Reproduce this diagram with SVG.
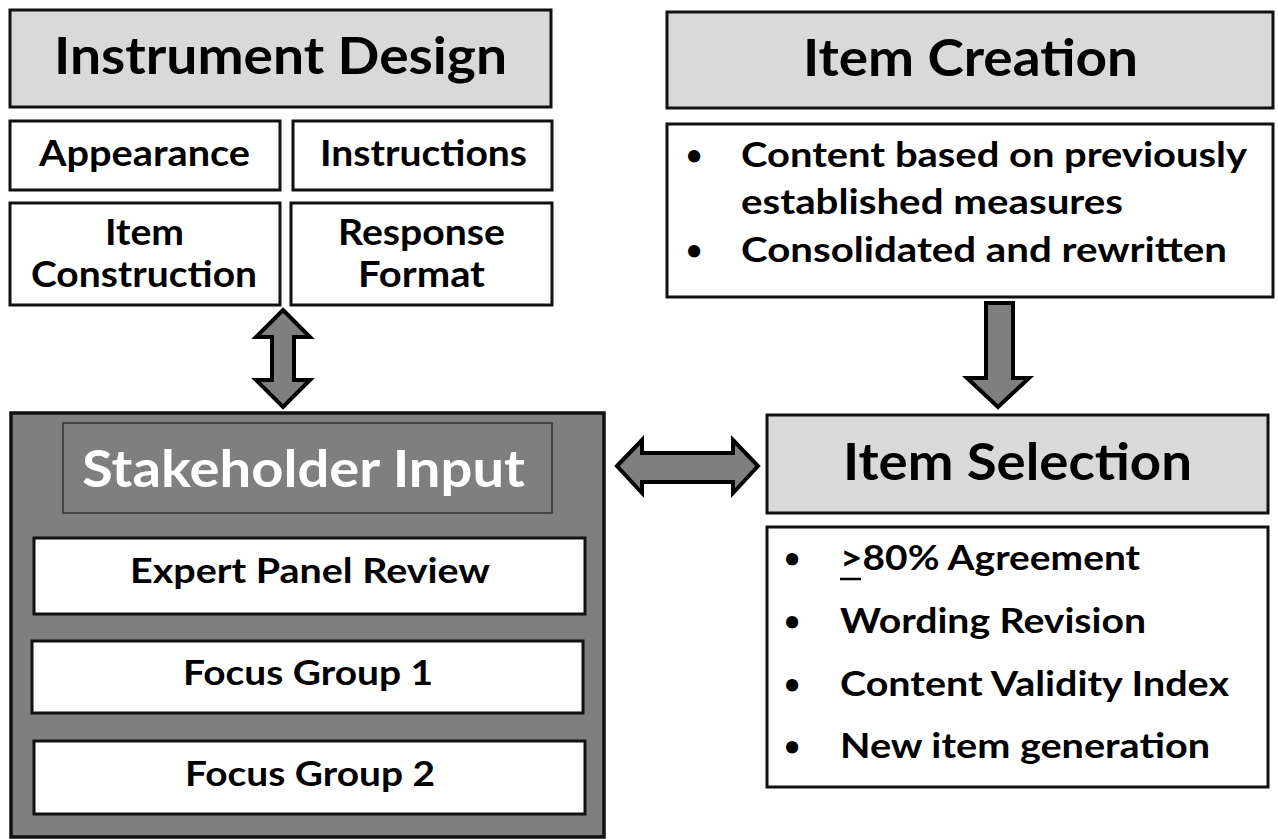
<svg xmlns="http://www.w3.org/2000/svg" width="1278" height="839" viewBox="0 0 1278 839">
<style>
text{font-family:Lato,"Open Sans","Liberation Sans",sans-serif;font-weight:bold;fill:#000}
.title{font-size:51px}
.sub{font-size:36px}
.item{font-size:34px}
.bul{font-size:28px;text-anchor:middle}
.w{fill:#fff}
.lg{fill:#d9d9d9;stroke:#111;stroke-width:3}
.wb{fill:#fff;stroke:#111;stroke-width:3}
.dg{fill:#7f7f7f;stroke:#111;stroke-width:3.5}
.arr{fill:#7f7f7f;stroke:#000;stroke-width:4;stroke-linejoin:miter}
</style>
<rect width="1278" height="839" fill="#fff"/>

<g id="instrument-design">
<rect class="lg" x="10" y="10" width="541" height="97"/>
<text class="title" x="54" y="74" textLength="453" lengthAdjust="spacingAndGlyphs">Instrument Design</text>
</g>
<g id="appearance">
<rect class="wb" x="10" y="121" width="270" height="69"/>
<text class="sub" x="39" y="166" textLength="211" lengthAdjust="spacingAndGlyphs">Appearance</text>
</g>
<g id="instructions">
<rect class="wb" x="293" y="121" width="259" height="69"/>
<text class="sub" x="320" y="166" textLength="207" lengthAdjust="spacingAndGlyphs">Instructions</text>
</g>
<g id="item-construction">
<rect class="wb" x="10" y="203" width="270" height="102"/>
<text class="sub" x="105" y="245" textLength="79" lengthAdjust="spacingAndGlyphs">Item</text>
<text class="sub" x="31" y="287" textLength="226" lengthAdjust="spacingAndGlyphs">Construction</text>
</g>
<g id="response-format">
<rect class="wb" x="291" y="203" width="261" height="102"/>
<text class="sub" x="338" y="245" textLength="167" lengthAdjust="spacingAndGlyphs">Response</text>
<text class="sub" x="358" y="287" textLength="127" lengthAdjust="spacingAndGlyphs">Format</text>
</g>

<g id="item-creation">
<rect class="lg" x="667" y="12" width="606" height="96"/>
<text class="title" x="803" y="76" textLength="335" lengthAdjust="spacingAndGlyphs">Item Creation</text>
</g>
<g id="item-creation-list">
<rect class="wb" x="667" y="124" width="606" height="173"/>
<text class="bul" x="694" y="165">•</text>
<text class="item" x="741" y="167" textLength="506" lengthAdjust="spacingAndGlyphs">Content based on previously</text>
<text class="item" x="741" y="214" textLength="382" lengthAdjust="spacingAndGlyphs">established measures</text>
<text class="bul" x="694" y="260">•</text>
<text class="item" x="741" y="262" textLength="486" lengthAdjust="spacingAndGlyphs">Consolidated and rewritten</text>
</g>

<g id="stakeholder-input">
<rect class="dg" x="11" y="413" width="593" height="424"/>
<rect x="63" y="423" width="489" height="90" fill="#7f7f7f" stroke="#333" stroke-width="1.5"/>
<text class="title w" x="82" y="487" textLength="443" lengthAdjust="spacingAndGlyphs">Stakeholder Input</text>
</g>
<g id="expert-panel-review">
<rect class="wb" x="34" y="538" width="551" height="76"/>
<text class="item" x="130" y="583" textLength="360" lengthAdjust="spacingAndGlyphs">Expert Panel Review</text>
</g>
<g id="focus-group-1">
<rect class="wb" x="32" y="641" width="551" height="72"/>
<text class="item" x="183" y="685" textLength="250" lengthAdjust="spacingAndGlyphs">Focus Group 1</text>
</g>
<g id="focus-group-2">
<rect class="wb" x="34" y="741" width="551" height="73"/>
<text class="item" x="185" y="786" textLength="250" lengthAdjust="spacingAndGlyphs">Focus Group 2</text>
</g>

<g id="item-selection">
<rect class="lg" x="767" y="415" width="501" height="98"/>
<text class="title" x="843" y="480" textLength="349" lengthAdjust="spacingAndGlyphs">Item Selection</text>
</g>
<g id="item-selection-list">
<rect class="wb" x="767" y="527" width="501" height="260"/>
<text class="bul" x="792" y="568">•</text>
<text class="item" x="840" y="570" textLength="300" lengthAdjust="spacingAndGlyphs">&gt;80% Agreement</text>
<line x1="840" y1="579" x2="861" y2="579" stroke="#000" stroke-width="2.5"/>
<text class="bul" x="792" y="631">•</text>
<text class="item" x="840" y="633" textLength="306" lengthAdjust="spacingAndGlyphs">Wording Revision</text>
<text class="bul" x="792" y="694">•</text>
<text class="item" x="840" y="696" textLength="389" lengthAdjust="spacingAndGlyphs">Content Validity Index</text>
<text class="bul" x="792" y="756">•</text>
<text class="item" x="840" y="758" textLength="370" lengthAdjust="spacingAndGlyphs">New item generation</text>
</g>

<g id="connectors">
<polygon class="arr" points="283,310 310,337 294,337 294,380 310,380 283,407 256,380 272,380 272,337 256,337"/>
<polygon class="arr" points="617,466 642,440 642,453 733,453 733,440 758,466 733,493 733,482 642,482 642,493"/>
<polygon class="arr" points="986,303 1013,303 1013,378 1029,378 998,407 967,378 986,378"/>
</g>
</svg>
